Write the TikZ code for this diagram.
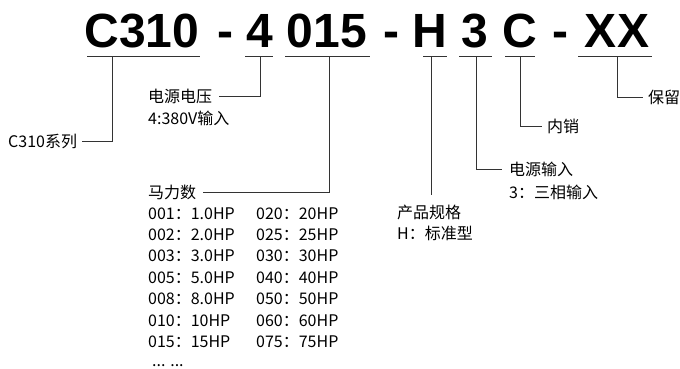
\documentclass[tikz,border=0pt]{standalone}
\usepackage{fontspec}
\setmainfont{Noto Sans CJK SC}
\newfontfamily\codefont{Liberation Sans}
\usetikzlibrary{positioning}

\begin{document}
\begin{tikzpicture}[x=1pt, y=-1pt,
	code/.style={inner sep=0pt, anchor=base, font=\codefont\bfseries\fontsize{48}{48}\selectfont},
	lbl/.style={inner sep=0pt, anchor=west, font=\fontsize{16}{20}\selectfont},
	link/.style={line width=1pt, draw=black!80},
	node distance = 6pt]
	\useasboundingbox (0,0) rectangle (680,368);
	% model code
	\node[code] (series) at (142,47) {C310};
	\node[code] (dash1) at (225,47) {-};
	\node[code] (volt) at (260,47) {4};
	\node[code] (power) at (327,47) {015};
	\node[code] (dash2) at (391,47) {-};
	\node[code] (spec) at (430,47) {H};
	\node[code] (phase) at (475,47) {3};
	\node[code] (sale) at (520,47) {C};
	\node[code] (dash3) at (560,47) {-};
	\node[code] (spare) at (617,47) {XX};
	\foreach \a/\b in {87/200, 245/273, 285/370, 423/447, 459/492, 505/535, 578/652}
		\draw[link] (\a,56) -- (\b,56);
	\coordinate (seriestap) at (112,56);
	\coordinate (volttap) at (260,56);
	\coordinate (powertap) at (329,56);
	\coordinate (spectap) at (431,56);
	\coordinate (phasetap) at (476,56);
	\coordinate (saletap) at (520,56);
	\coordinate (sparetap) at (617,56);
	% labels
	\node[lbl] (serieslbl) at (8,141) {C310系列};
	\node[lbl] (voltlbl) at (148,96) {电源电压};
	\node[lbl] (voltdesc) at (148,118) {4:380V输入};
	\node[lbl] (powerlbl) at (148,192) {马力数};
	\foreach \l/\r [count=\i] in {001：1.0HP/020：20HP, 002：2.0HP/025：25HP,
		003：3.0HP/030：30HP, 005：5.0HP/040：40HP, 008：8.0HP/050：50HP,
		010：10HP/060：60HP, 015：15HP/075：75HP} {
		\node[lbl] (powerL\i) at (148,192+21.4*\i) {\l};
		\node[lbl] (powerR\i) at (256,192+21.4*\i) {\r};
	}
	\node[lbl, anchor=base west, text depth=0pt] (powermore) at (152,366) {... ...};
	\node[lbl] (speclbl) at (397,212) {产品规格};
	\node[lbl] (specdesc) at (397,233) {H：标准型};
	\node[lbl] (phaselbl) at (509,169) {电源输入};
	\node[lbl] (phasedesc) at (509,192) {3：三相输入};
	\node[lbl] (salelbl) at (547,126) {内销};
	\node[lbl] (sparelbl) at (648,97) {保留};
	% connectors
	\draw[link, shorten >=5pt] (seriestap) |- (serieslbl.east);
	\draw[link, shorten >=7pt] (volttap) |- (voltlbl.east);
	\draw[link, shorten >=7pt] (powertap) |- (powerlbl.east);
	\draw[link, shorten >=9pt] (spectap) -- (spectap |- speclbl.north);
	\draw[link, shorten >=7pt] (phasetap) |- (phaselbl.west);
	\draw[link, shorten >=5pt] (saletap) |- (salelbl.west);
	\draw[link, shorten >=5pt] (sparetap) |- (sparelbl.west);
\end{tikzpicture}
\end{document}
